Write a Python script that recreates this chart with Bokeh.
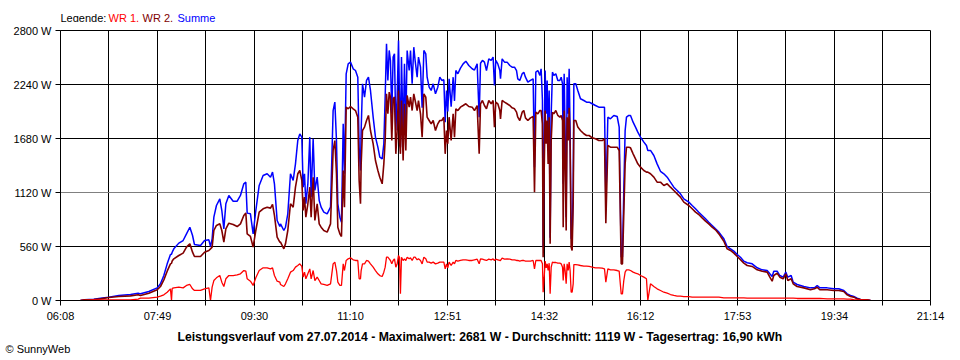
from bokeh.plotting import figure
from bokeh.layouts import column
from bokeh.models import Range1d, FixedTicker, Span, Label, Title, ColumnDataSource
from bokeh.embed import file_html
from bokeh.resources import INLINE

# ---- data (minute of day, watts) ----
minute_of_day = [
    388.8, 393.0, 402.7, 409.7, 418.3, 428.7, 440.9, 448.9, 451.3, 460.0,
    468.7, 472.1, 475.6, 479.1, 482.5, 483.6, 484.3, 486.0, 491.2, 495.7,
    499.2, 502.7, 505.5, 507.5, 513.8, 518.0, 522.5, 524.2, 525.9, 527.7,
    530.4, 533.9, 536.0, 538.1, 540.2, 543.3, 547.8, 552.0, 555.4, 558.9,
    561.0, 562.4, 565.8, 568.6, 571.4, 574.9, 579.0, 583.2, 586.7, 588.8,
    590.8, 593.6, 596.4, 597.1, 600.6, 602.3, 604.7, 607.5, 610.3, 612.7,
    615.1, 617.2, 619.3, 620.7, 622.1, 623.5, 625.6, 627.6, 629.0, 631.1,
    632.9, 635.3, 637.4, 639.4, 642.2, 645.7, 649.2, 651.9, 653.7, 655.4,
    656.8, 658.9, 660.6, 662.4, 663.7, 665.5, 667.6, 670.0, 672.8, 675.2,
    677.6, 679.0, 680.4, 681.1, 682.5, 684.6, 686.7, 688.7, 690.8, 693.6,
    696.0, 698.5, 700.5, 703.0, 704.7, 706.1, 707.5, 708.9, 710.3, 711.6,
    713.0, 714.4, 715.8, 717.2, 718.6, 720.0, 721.0, 722.0, 723.1, 724.8,
    726.2, 727.6, 729.0, 731.1, 732.5, 734.2, 735.9, 737.3, 739.4, 740.8,
    742.9, 744.6, 746.4, 748.4, 749.8, 751.9, 754.0, 756.1, 758.5, 760.9,
    763.0, 765.1, 767.2, 768.6, 770.0, 771.3, 772.7, 774.8, 776.9, 778.3,
    779.7, 781.8, 784.5, 787.3, 790.1, 793.2, 796.7, 799.1, 801.9, 804.0,
    805.4, 807.4, 809.5, 811.6, 814.0, 816.5, 818.5, 819.9, 821.3, 823.4,
    825.5, 826.2, 827.9, 830.4, 833.1, 835.9, 838.3, 840.8, 842.9, 844.2,
    846.3, 848.8, 850.5, 852.2, 854.7, 857.4, 860.2, 861.6, 863.0, 865.1,
    867.2, 868.5, 869.9, 870.6, 871.7, 872.7, 873.8, 874.8, 875.8, 876.9,
    877.9, 879.0, 880.3, 881.7, 883.8, 885.9, 888.0, 889.4, 890.8, 891.5,
    892.5, 893.5, 894.6, 895.6, 896.7, 897.7, 898.7, 899.8, 900.8, 901.9,
    902.6, 904.6, 906.7, 909.5, 913.0, 915.8, 918.5, 921.7, 925.1, 928.6,
    932.1, 934.5, 935.9, 938.0, 940.7, 944.2, 947.7, 949.8, 951.9, 953.2,
    954.6, 956.0, 957.4, 959.8, 961.6, 964.3, 966.8, 969.2, 972.0, 975.5,
    978.2, 979.6, 982.4, 985.9, 989.3, 992.8, 996.3, 999.8, 1003.2, 1006.7,
    1010.2, 1013.6, 1017.1, 1022.3, 1025.8, 1029.3, 1032.7, 1036.2, 1039.7, 1043.1,
    1046.6, 1050.1, 1053.6, 1058.8, 1062.2, 1065.7, 1069.2, 1072.7, 1076.1, 1079.6,
    1083.1, 1088.3, 1093.5, 1098.7, 1103.9, 1106.7, 1109.1, 1110.8, 1114.3, 1117.1,
    1120.6, 1123.3, 1125.4, 1128.9, 1131.0, 1135.1, 1142.1, 1149.0, 1153.2, 1156.0,
    1158.7, 1166.4, 1173.3, 1178.5, 1183.7, 1187.2, 1190.7, 1194.1, 1197.6, 1201.1,
    1208.0, 1211.5,
]

summe_w = [
    0, 7, 14, 24, 35, 52, 62, 76, 69, 93,
    131, 173, 259, 380, 477, 480, 500, 536, 595, 622,
    691, 760, 674, 581, 570, 622, 629, 560, 640, 864,
    985, 1054, 933, 743, 1003, 1089, 1030, 1030, 1089, 1210,
    1227, 906, 899, 691, 933, 1193, 1296, 1314, 1279, 1331,
    1210, 830, 767, 795, 726, 760, 899, 1314, 1245, 1417,
    1659, 1728, 1694, 1175, 1314, 1003, 1210, 1694, 1072, 1677,
    1141, 1279, 1037, 968, 916, 899, 968, 1970, 2057, 1659,
    1003, 864, 812, 1832, 1314, 2351, 2454, 2472, 2403, 2385,
    2316, 1590, 1348, 1763, 2247, 2109, 2282, 2316, 2178, 1901,
    1694, 1590, 1487, 1469, 1625, 2109, 2662, 2282, 2593, 2489,
    1936, 2524, 2558, 1763, 2109, 2697, 2109, 1590, 2524, 1694,
    2454, 1832, 2593, 2385, 2593, 2247, 2627, 2489, 2316, 2524,
    2420, 2000, 2593, 2558, 2316, 2212, 2178, 2247, 2143, 2212,
    2316, 2282, 2290, 1850, 2178, 1960, 2299, 2010, 2316, 2070,
    2385, 2351, 2410, 2454, 2482, 2437, 2403, 2390, 2454, 1900,
    2460, 2490, 2472, 2385, 2506, 2489, 2524, 2230, 2489, 2454,
    2385, 2300, 2506, 2472, 2472, 2437, 2420, 2420, 2385, 2299,
    2282, 2351, 2368, 2316, 2264, 2282, 2299, 1383, 2368, 2385,
    2334, 2403, 2074, 553, 1659, 2385, 1936, 2282, 1700, 2178,
    650, 1936, 2368, 2334, 2351, 2282, 2282, 2316, 2247, 1210,
    2351, 1728, 864, 2316, 1936, 2403, 1763, 640, 657, 1176,
    2247, 2247, 2178, 2092, 2074, 2057, 2057, 2040, 2022, 2005,
    2005, 2005, 1020, 1901, 1884, 1919, 1908, 1798, 450, 450,
    1141, 1763, 1901, 1919, 1919, 1849, 1798, 1746, 1694, 1642,
    1607, 1556, 1556, 1504, 1417, 1340, 1314, 1279, 1227, 1175,
    1141, 1106, 1054, 1020, 985, 951, 916, 882, 847, 812,
    778, 743, 709, 640, 560, 536, 512, 477, 449, 408,
    391, 380, 339, 318, 311, 277, 249, 304, 304, 259,
    242, 294, 242, 259, 190, 166, 145, 131, 131, 156,
    131, 131, 121, 121, 104, 69, 52, 41, 24, 10,
    7, 0,
]

wr2_w = [
    0, 7, 10, 17, 31, 41, 48, 59, 52, 76,
    111, 145, 214, 304, 380, 385, 410, 432, 467, 491,
    553, 588, 501, 456, 456, 501, 519, 536, 553, 726,
    778, 795, 726, 605, 743, 802, 788, 767, 795, 882,
    906, 691, 664, 553, 726, 916, 951, 968, 958, 996,
    882, 657, 605, 605, 536, 588, 726, 1003, 968, 1175,
    1314, 1348, 1245, 933, 1072, 864, 1003, 1175, 864, 1279,
    830, 1003, 795, 760, 726, 709, 795, 1556, 1659, 1314,
    760, 691, 664, 1348, 968, 2005, 1988, 2012, 1988, 1970,
    1901, 1245, 1003, 1417, 1763, 1798, 1867, 1919, 1763, 1625,
    1452, 1348, 1279, 1210, 1417, 1659, 2143, 1936, 2161, 2109,
    1659, 2092, 2109, 1521, 1763, 2178, 1659, 1521, 2074, 1452,
    2040, 1556, 2126, 2005, 2109, 1970, 2143, 2074, 1970, 2074,
    1936, 1694, 2143, 2109, 1901, 1867, 1832, 1867, 1763, 1832,
    1867, 1867, 1901, 1521, 1763, 1625, 1901, 1659, 1936, 1694,
    1988, 1970, 2005, 2022, 2040, 2012, 2005, 1970, 2022, 1521,
    2040, 2074, 2022, 1988, 2074, 2040, 2074, 1798, 2057, 2040,
    1970, 1884, 2074, 2057, 2040, 2022, 1998, 1988, 1953, 1901,
    1867, 1953, 1970, 1894, 1867, 1894, 1908, 1124, 1953, 1936,
    1970, 1970, 1832, 449, 1348, 1970, 1625, 1867, 1417, 1901,
    588, 1659, 1953, 1936, 1970, 1919, 1901, 1919, 1867, 760,
    1970, 1487, 726, 1901, 1659, 1998, 1590, 553, 519, 1003,
    1867, 1867, 1798, 1763, 1729, 1711, 1711, 1687, 1677, 1659,
    1659, 1677, 802, 1607, 1590, 1590, 1590, 1556, 380, 380,
    899, 1417, 1590, 1590, 1583, 1521, 1469, 1417, 1383, 1348,
    1331, 1331, 1314, 1279, 1227, 1227, 1193, 1210, 1175, 1141,
    1106, 1072, 1020, 985, 951, 916, 892, 857, 823, 795,
    760, 733, 691, 615, 536, 519, 491, 456, 422, 387,
    363, 353, 318, 304, 294, 242, 200, 259, 283, 242,
    225, 277, 207, 225, 173, 145, 131, 111, 121, 138,
    111, 111, 104, 104, 93, 59, 41, 35, 17, 10,
    7, 0,
]

wr1_w = [
    0, 0, 7, 7, 7, 7, 7, 14, 24, 24,
    35, 45, 59, 86, 121, 0, 125, 131, 138, 131,
    156, 166, 121, 104, 104, 121, 131, 0, 138, 207,
    235, 259, 190, 145, 225, 259, 259, 266, 277, 311,
    304, 225, 200, 156, 235, 311, 339, 339, 328, 339,
    259, 200, 190, 166, 145, 173, 225, 294, 311, 346,
    363, 380, 353, 242, 294, 225, 277, 328, 225, 311,
    207, 242, 207, 173, 166, 156, 173, 380, 398, 311,
    190, 156, 156, 380, 311, 415, 432, 442, 422, 415,
    415, 225, 225, 311, 380, 380, 415, 408, 380, 346,
    311, 277, 259, 249, 294, 346, 449, 449, 432, 415,
    380, 415, 432, 346, 380, 467, 449, 69, 449, 415,
    432, 415, 449, 432, 442, 415, 449, 449, 422, 432,
    415, 380, 449, 432, 398, 398, 387, 398, 380, 387,
    398, 398, 398, 328, 380, 339, 398, 363, 398, 380,
    415, 408, 415, 422, 422, 415, 415, 422, 429, 380,
    432, 429, 422, 415, 429, 422, 432, 415, 429, 422,
    415, 415, 439, 429, 432, 429, 422, 422, 415, 415,
    408, 415, 415, 408, 408, 408, 415, 328, 415, 415,
    415, 415, 380, 86, 242, 408, 339, 380, 311, 387,
    69, 346, 398, 394, 394, 387, 387, 380, 346, 207,
    380, 311, 173, 380, 311, 398, 311, 86, 86, 173,
    373, 373, 370, 363, 356, 356, 353, 346, 339, 339,
    335, 328, 190, 328, 318, 318, 311, 304, 69, 69,
    207, 294, 318, 318, 311, 294, 283, 277, 259, 242,
    225, 0, 173, 145, 121, 104, 86, 76, 62, 52,
    45, 45, 41, 41, 35, 35, 35, 35, 35, 35,
    35, 35, 35, 28, 28, 28, 28, 28, 28, 28,
    24, 24, 24, 24, 24, 24, 24, 24, 24, 24,
    24, 24, 24, 24, 24, 21, 21, 21, 21, 21,
    21, 17, 17, 17, 17, 14, 14, 10, 7, 7,
    3, 0,
]

x_tick_labels = ["06:08", "07:49", "09:30", "11:10", "12:51",
                 "14:32", "16:12", "17:53", "19:34", "21:14"]
y_ticks_w = [0, 560, 1120, 1680, 2240, 2800]

title_text = ("Leistungsverlauf vom 27.07.2014 - Maximalwert: 2681 W - "
              "Durchschnitt: 1119 W - Tagesertrag: 16,90 kWh")
copyright_text = "\u00a9 SunnyWeb"
legend_parts = [("Legende:", "#000000"), ("WR 1,", "#FF0000"),
                ("WR 2,", "#800000"), ("Summe", "#0000FF")]

# ---- derived ----
def to_min(s):
    h, m = s.split(":")
    return int(h) * 60 + int(m)

x_major = [to_min(s) for s in x_tick_labels]
x_minor = [(a + b) / 2 for a, b in zip(x_major[:-1], x_major[1:])]

FONT = "Liberation Sans"
W = 952
LEFT, RIGHT = 60, 22
FRAME_W, FRAME_H = 870, 270

# top strip: legend (its frame lines up with the chart frame)
top = figure(width=W, height=22, x_range=Range1d(LEFT, W - RIGHT),
             y_range=Range1d(0, 22), output_backend="svg",
             toolbar_location=None, x_axis_type=None, y_axis_type=None,
             min_border_left=LEFT, min_border_right=RIGHT,
             min_border_top=0, min_border_bottom=0,
             background_fill_color="white", border_fill_color="white",
             outline_line_color=None)
top.xgrid.visible = False
top.ygrid.visible = False
leg_x = [60, 108, 142, 177]
for (txt, col), lx in zip(legend_parts, leg_x):
    top.add_layout(Label(x=lx, y=5, text=txt, text_font=FONT,
                         text_font_size="11px", text_align="left",
                         text_baseline="middle", text_color=col))

# main chart
p = figure(frame_width=FRAME_W, frame_height=FRAME_H,
           x_range=Range1d(x_major[0], x_major[-1]),
           y_range=Range1d(y_ticks_w[0], y_ticks_w[-1]),
           output_backend="svg", toolbar_location=None,
           min_border_left=LEFT, min_border_right=RIGHT,
           min_border_top=8, min_border_bottom=60,
           background_fill_color="white", border_fill_color="white",
           outline_line_color="black", outline_line_width=1)

xt = FixedTicker(ticks=x_major, minor_ticks=x_minor)
p.xaxis.ticker = xt
p.xaxis.major_label_overrides = {t: l for t, l in zip(x_major, x_tick_labels)}
p.xaxis.major_tick_in = 0
p.xaxis.major_tick_out = 5
p.xaxis.minor_tick_in = 0
p.xaxis.minor_tick_out = 5
p.xaxis.minor_tick_line_color = "black"
p.xaxis.major_tick_line_color = "black"
p.xaxis.axis_line_color = "black"
p.xaxis.major_label_standoff = 4

p.yaxis.ticker = FixedTicker(ticks=y_ticks_w)
p.yaxis.major_label_overrides = {v: f"{v} W" for v in y_ticks_w}
p.yaxis.major_tick_in = 0
p.yaxis.major_tick_out = 5
p.yaxis.minor_tick_line_color = None
p.yaxis.major_tick_line_color = "black"
p.yaxis.axis_line_color = "black"
p.yaxis.major_label_standoff = 4

for ax in (p.xaxis, p.yaxis):
    ax.major_label_text_font = FONT
    ax.major_label_text_font_size = "11px"
    ax.major_label_text_color = "black"

p.xgrid.ticker = xt
p.xgrid.grid_line_color = "black"
p.xgrid.minor_grid_line_color = "black"
p.ygrid.ticker = FixedTicker(ticks=[v for v in y_ticks_w if v != 1120])
p.ygrid.grid_line_color = "black"
p.add_layout(Span(location=1120, dimension="width", line_color="#808080",
                  line_width=1, level="underlay"))

src = ColumnDataSource(dict(t=minute_of_day, s=summe_w, w2=wr2_w, w1=wr1_w))
p.line("t", "s", source=src, line_color="#0000FF", line_width=1.5)
p.line("t", "w2", source=src, line_color="#800000", line_width=1.6)
p.line("t", "w1", source=src, line_color="#FF0000", line_width=1.3)

# bottom texts as titles below the x axis
p.add_layout(Title(text=title_text, align="left", offset=117,
                   text_font=FONT, text_font_style="bold",
                   text_font_size="12.2px", text_color="black",
                   standoff=6), "below")
p.add_layout(Title(text=copyright_text, align="left", offset=-55,
                   text_font=FONT, text_font_style="normal",
                   text_font_size="11px", text_color="black",
                   standoff=-12), "below")

layout = column(top, p, spacing=0)
open("out.html", "w").write(file_html(layout, INLINE))
